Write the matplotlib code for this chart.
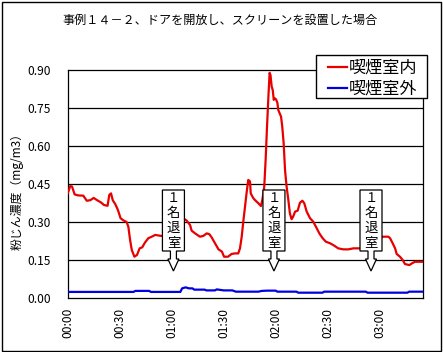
import matplotlib
matplotlib.use("Agg")
import matplotlib.pyplot as plt
from matplotlib.patches import Rectangle, Polygon
from matplotlib.lines import Line2D

plt.rcParams['font.family'] = ['Noto Sans CJK JP', 'DejaVu Sans']

# ---------------- data ----------------
title = "事例１４－２、ドアを開放し、スクリーンを設置した場合"
ylabel = "粉じん濃度（mg/m3）"
series_names = ["喫煙室内", "喫煙室外"]

# minutes since 00:00
inside_t = [0, 1.5, 2.5, 4, 6, 9, 11, 13, 15, 17, 19, 21, 23, 24, 25, 26, 27.5, 29,
            30.5, 32, 34, 35, 36, 37, 38.5, 40, 41.5, 43, 44.5, 46.5, 48.5, 50.5, 54,
            57, 61, 64, 66.7, 68.7, 70.6, 71.5, 73.5, 76.3, 78.2, 80.2, 81.7, 83, 85,
            87, 89, 90.2, 92.5, 94.6, 96.5, 98.4, 99.4, 100.4, 101.3, 102.3, 103.3,
            104.2, 105.2, 105.6, 107.1, 108, 110, 111.5, 112.3, 113.4, 114.2, 115,
            115.8, 116.5, 117, 117.7, 118.3, 118.9, 119.3, 120.2, 121, 121.5, 123.1,
            123.8, 124.6, 125.4, 126.3, 127.3, 128.2, 129.2, 130, 131.2, 132.7, 134,
            135.4, 136.5, 137.9, 139.8, 141.7, 143.7, 145.2, 147.1, 149, 151.4, 153.7,
            156.1, 159, 162, 164.8, 168.2, 172, 176, 180, 181.8, 185, 186, 187.5,
            188.9, 189.8, 191.7, 193.3, 194.6, 197.1, 198.7, 200.4, 205]
inside_v = [0.413, 0.442, 0.440, 0.409, 0.405, 0.404, 0.384, 0.386, 0.395, 0.386, 0.378,
            0.367, 0.364, 0.407, 0.413, 0.386, 0.370, 0.347, 0.315, 0.307, 0.300, 0.281,
            0.229, 0.189, 0.163, 0.170, 0.196, 0.200, 0.218, 0.236, 0.242, 0.249, 0.245,
            0.250, 0.270, 0.300, 0.315, 0.305, 0.288, 0.266, 0.255, 0.242, 0.245, 0.255,
            0.252, 0.240, 0.216, 0.192, 0.183, 0.163, 0.163, 0.174, 0.176, 0.176, 0.196,
            0.242, 0.301, 0.360, 0.420, 0.466, 0.460, 0.413, 0.394, 0.387, 0.374, 0.363,
            0.387, 0.439, 0.545, 0.676, 0.795, 0.889, 0.880, 0.834, 0.821, 0.782, 0.789,
            0.784, 0.770, 0.742, 0.716, 0.676, 0.611, 0.505, 0.440, 0.387, 0.334, 0.311,
            0.320, 0.341, 0.345, 0.376, 0.384, 0.374, 0.341, 0.315, 0.301, 0.275, 0.255,
            0.236, 0.222, 0.216, 0.207, 0.196, 0.192, 0.192, 0.196, 0.196, 0.198, 0.210,
            0.235, 0.242, 0.242, 0.236, 0.216, 0.196, 0.174, 0.163, 0.150, 0.134, 0.130,
            0.137, 0.143, 0.143]

outside_t = [0, 38, 39, 47, 48, 65, 66, 68, 70, 72, 73, 79, 80, 85, 86, 88, 90, 95, 97,
             110, 112, 115, 120, 121, 132, 133, 147, 148, 172, 173, 196, 197, 205]
outside_v = [0.024, 0.024, 0.028, 0.028, 0.024, 0.024, 0.038, 0.042, 0.038, 0.038, 0.033,
             0.033, 0.030, 0.030, 0.034, 0.032, 0.030, 0.030, 0.025, 0.025, 0.028, 0.029,
             0.029, 0.025, 0.025, 0.021, 0.021, 0.025, 0.025, 0.021, 0.021, 0.025, 0.025]

x_ticks = [0, 30, 60, 90, 120, 150, 180]
x_ticklabels = ["00:00", "00:30", "01:00", "01:30", "02:00", "02:30", "03:00"]
y_ticks = [0.00, 0.15, 0.30, 0.45, 0.60, 0.75, 0.90]

callout_times = [61, 119, 175]
callout_text = ["１", "名", "退", "室"]

# ---------------- figure ----------------
W, H = 443, 352
fig = plt.figure(figsize=(W / 100, H / 100), dpi=100)
fig.patch.set_facecolor("white")

def fx(px):
    return px / W

def fy(py):
    return 1 - py / H

# outer border
fig.patches.append(Rectangle((fx(1.5), fy(350.5)), fx(439), 349 / H, transform=fig.transFigure,
                             fill=False, edgecolor="black", linewidth=1.0))

L, R, T, B = 67.7, 423, 70, 298
ax = fig.add_axes([fx(L), fy(B), (R - L) / W, (B - T) / H])
ax.set_xlim(0, 205)
ax.set_ylim(0, 0.90)

for yv in y_ticks[1:-1]:
    ax.axhline(yv, color="black", linewidth=0.9, zorder=1)

ax.plot(inside_t, inside_v, color="#E80000", linewidth=1.6, zorder=3)
ax.plot(outside_t, outside_v, color="#0000E0", linewidth=1.6, zorder=3)

for s in ax.spines.values():
    s.set_color("black")
    s.set_linewidth(0.9)

ax.set_yticks(y_ticks)
ax.set_yticklabels([f"{v:.2f}" for v in y_ticks], fontsize=8.6)
ax.set_xticks(x_ticks)
ax.set_xticklabels(x_ticklabels, rotation=90, fontsize=8.6)
ax.tick_params(axis="y", length=0, pad=12)
ax.tick_params(axis="x", length=0, pad=7)

fig.text(fx(17.5), fy(188), ylabel, rotation=90, ha="center", va="center", fontsize=8.6)
fig.text(fx(220), fy(20), title, ha="center", va="center", fontsize=8.7)

# legend (manual)
fig.patches.append(Rectangle((fx(316), fy(98)), 111 / W, 43 / H, transform=fig.transFigure,
                             facecolor="white", edgecolor="black", linewidth=1.0, zorder=5))
for i, (name, col) in enumerate(zip(series_names, ["#E80000", "#0000E0"])):
    yy = 67.3 + i * 21
    fig.lines.append(Line2D([fx(328), fx(347)], [fy(yy), fy(yy)], transform=fig.transFigure,
                            color=col, linewidth=1.6, zorder=6))
    fig.text(fx(349), fy(yy), name, ha="left", va="center", fontsize=12.3, zorder=6)

# callouts (down-arrow callout boxes)
inv = fig.transFigure.inverted()
for t in callout_times:
    tip_disp = ax.transData.transform((t, 0))
    tip_px = tip_disp[0]  # display x in pixels (dpi 100 -> same as image px)
    tx = tip_px
    ty = 271
    shape = [(-11, -81), (11, -81), (11, -20), (3, -20), (3, -12), (5.5, -12), (0, 0),
             (-5.5, -12), (-3, -12), (-3, -20), (-11, -20)]
    pts = [(fx(tx + dx), fy(ty + dy)) for dx, dy in shape]
    fig.patches.append(Polygon(pts, closed=True, transform=fig.transFigure, facecolor="white",
                               edgecolor="black", linewidth=0.9, zorder=5))
    for k, ch in enumerate(callout_text):
        fig.text(fx(tx), fy(ty - 81 + 8 + 15 * k), ch, ha="center", va="center",
                 fontsize=9.6, zorder=6)

fig.savefig("out.png", dpi=100)
